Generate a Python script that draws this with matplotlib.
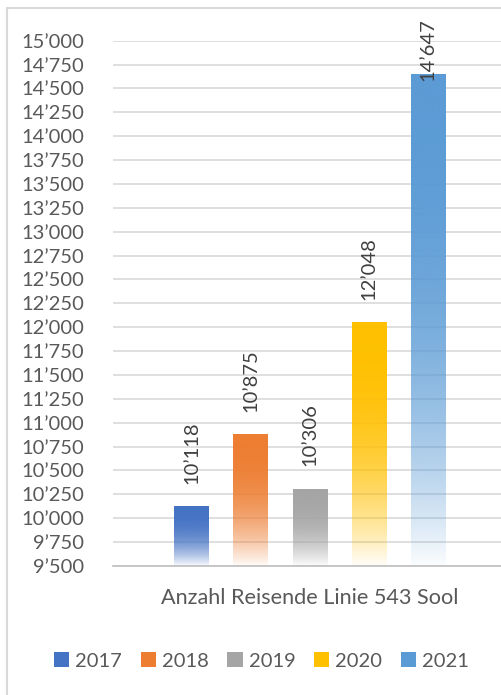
import numpy as np
import matplotlib
matplotlib.use('Agg')
import matplotlib.pyplot as plt
from matplotlib.patches import Patch, Rectangle
from matplotlib.colors import to_rgb

plt.rcParams['font.family'] = ['Lato', 'DejaVu Sans']

years = ['2017', '2018', '2019', '2020', '2021']
reisende = [10118, 10875, 10306, 12048, 14647]
colors = ['#4472C4', '#ED7D31', '#A5A5A5', '#FFC000', '#5B9BD5']
category = 'Anzahl Reisende Linie 543 Sool'
ymin, ymax, ystep = 9500, 15000, 250

text_grey = '#595959'
fs = 14.5


def fmt(v):
    return '{:,}'.format(int(v)).replace(',', '\u2019')


fig = plt.figure(figsize=(5.02, 6.95), dpi=100)
ax = fig.add_axes([113 / 502, 1 - 566 / 695, 394 / 502, (566 - 40.7) / 695])

# light frame around the chart
fig.patches.append(Rectangle((7 / 502, -0.05), 1.2, 1 - 8 / 695 + 0.05,
                             transform=fig.transFigure, fill=False,
                             edgecolor='#D9D9D9', lw=1.5))

width = 0.59
xs = np.arange(len(years))
n = 200
frac = np.linspace(0, 1, n)
alpha = 1 - 0.97 * frac ** 2.5
for x, v, c in zip(xs, reisende, colors):
    img = np.zeros((n, 1, 4))
    img[..., :3] = to_rgb(c)
    img[:, 0, 3] = alpha
    ax.imshow(img, extent=(x - width / 2, x + width / 2, ymin, v),
              origin='upper', aspect='auto', zorder=2, interpolation='bilinear')
    if v > 14000:
        ax.annotate(fmt(v), (x, ymax), xytext=(0, 16), textcoords='offset points',
                    rotation=90, ha='center', va='top', fontsize=fs,
                    color='#404040', annotation_clip=False, zorder=3)
    else:
        ax.annotate(fmt(v), (x, v), xytext=(0, 16.5), textcoords='offset points',
                    rotation=90, ha='center', va='bottom', fontsize=fs,
                    color='#404040', zorder=3)

ax.set_xlim(-1.33, 5.33)
ax.set_ylim(ymin, ymax)
ax.set_yticks(np.arange(ymin, ymax + 1, ystep))
ax.set_yticklabels([fmt(t) for t in np.arange(ymin, ymax + 1, ystep)])
ax.set_xticks([2])
ax.set_xticklabels([category])
ax.tick_params(axis='y', length=0, pad=21, labelsize=fs, labelcolor=text_grey)
ax.tick_params(axis='x', length=0, pad=16, labelsize=15.6, labelcolor=text_grey)
ax.grid(axis='y', color='#D9D9D9', lw=1.2, zorder=0)
ax.set_axisbelow(True)
for s in ['top', 'right', 'left']:
    ax.spines[s].set_visible(False)
ax.spines['bottom'].set_color('#BFBFBF')
ax.spines['bottom'].set_linewidth(1.2)

handles = [Patch(facecolor=c, edgecolor='none', label=y) for y, c in zip(years, colors)]
fig.legend(handles=handles, loc='center', bbox_to_anchor=(0.521, 1 - 661 / 695),
           ncol=5, frameon=False, fontsize=fs, labelcolor=text_grey,
           handlelength=0.75, handleheight=0.75, handletextpad=0.3,
           columnspacing=0.93)

fig.savefig('out.png', dpi=100)
